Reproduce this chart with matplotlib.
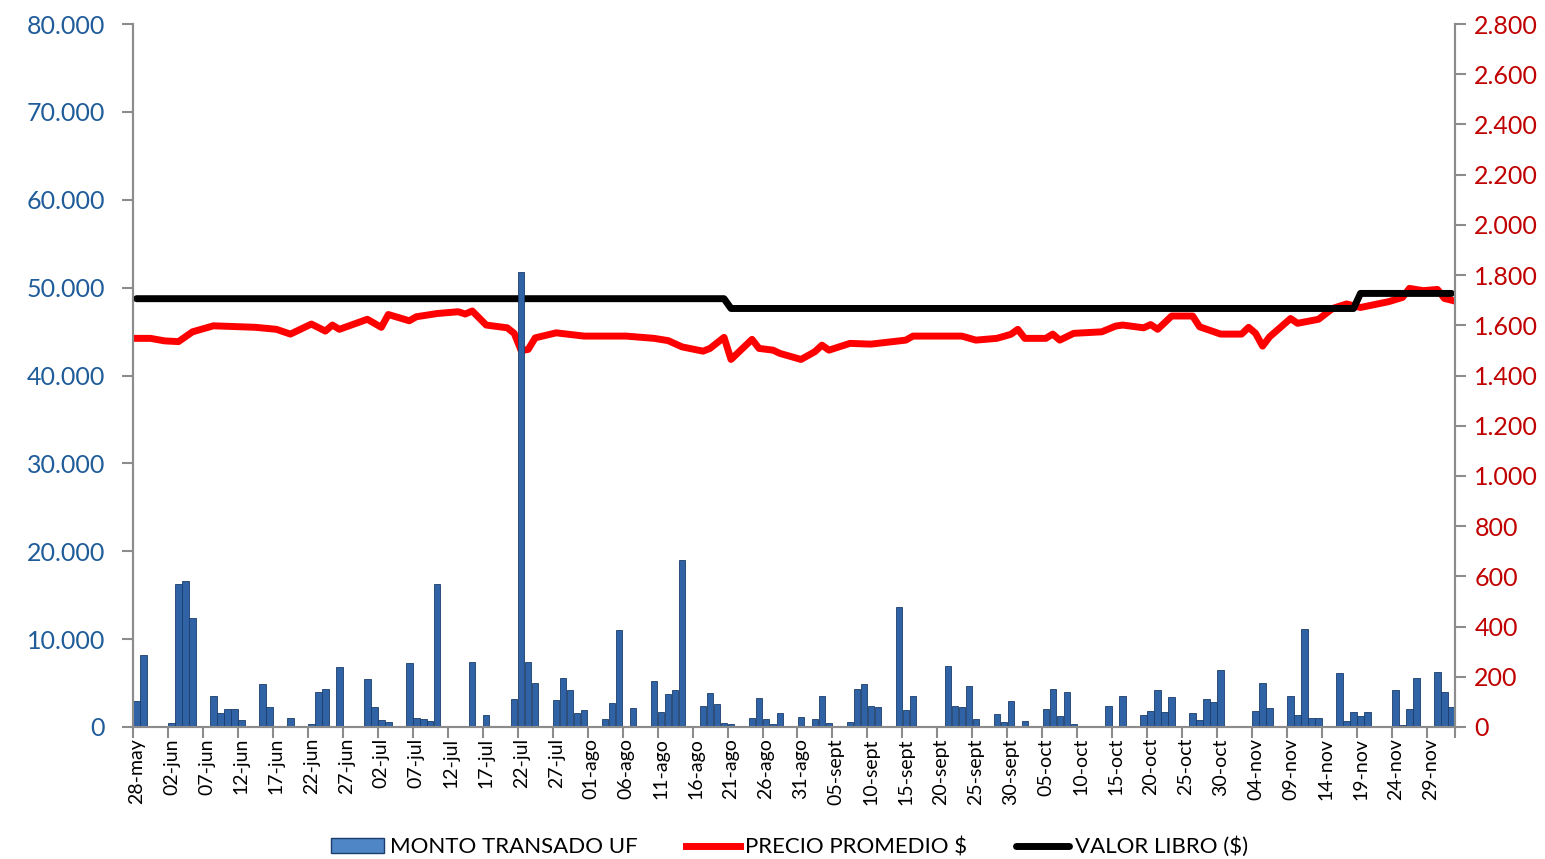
import matplotlib
matplotlib.use("Agg")
import matplotlib.pyplot as plt
from matplotlib.patches import Patch
from matplotlib.lines import Line2D
from matplotlib.ticker import FuncFormatter

plt.rcParams['font.family'] = ['Lato', 'DejaVu Sans']

# dias contados desde 28-may (0) hasta 02-dic (188)
n_dias = 189

# monto transado UF por dia
monto_dias = [0, 1, 5, 6, 7, 8, 11, 12, 13, 14, 15, 18, 19, 22, 25, 26, 27, 29,
              33, 34, 35, 36, 39, 40, 41, 42, 43, 47, 48, 50, 53, 54, 55, 56, 57,
              60, 61, 62, 63, 64, 67, 68, 69, 71, 74, 75, 76, 77, 78, 81, 82, 83,
              84, 85, 88, 89, 90, 91, 92, 95, 97, 98, 99, 102, 103, 104, 105, 106,
              109, 110, 111, 116, 117, 118, 119, 120, 123, 124, 125, 127, 130, 131,
              132, 133, 134, 139, 141, 144, 145, 146, 147, 148, 151, 152, 153, 154,
              155, 159, 160, 161, 162, 165, 166, 167, 168, 169, 172, 173, 174, 175,
              176, 179, 180, 181, 182, 183, 186, 187, 188]
monto_uf = [2960, 8220, 400, 16300, 16560, 12430, 3560, 1630, 2090, 2090, 830, 4930,
            2310, 1060, 380, 4020, 4360, 6780,
            5420, 2240, 830, 610, 7240, 990, 870, 720, 16260, 150, 7430, 1400, 150,
            3220, 51800, 7430, 5040,
            3110, 5530, 4250, 1630, 1970, 910, 2770, 10990, 2200, 5270, 1740, 3790,
            4250, 18950, 2430, 3900, 2650,
            490, 300, 1060, 3340, 950, 380, 1630, 1180, 950, 3560, 490, 600, 4360,
            4930, 2430, 2310,
            13680, 1970, 3560, 6970, 2430, 2310, 4700, 950, 1520, 600, 2990, 720,
            2090, 4360,
            1290, 4020, 380, 2430, 3560, 1400, 1860, 4250, 1740, 3450, 1630, 830,
            3220, 2880,
            6520, 50, 1860, 5040, 2200, 3560, 1400, 11180, 1060, 1060, 6180, 720,
            1740, 1290,
            1740, 50, 4250, 270, 2090, 5610, 6290, 4020, 2310]

# precio promedio $
precio_dias = [0, 2, 4, 6, 8, 11, 14, 17, 20, 22, 25, 27, 28, 29, 33, 35, 36, 39, 40,
               43, 46, 47, 48, 50, 53, 54, 55, 56, 57, 60, 64, 70, 74, 76, 78, 81, 82,
               84, 85, 88, 89, 91, 92, 95, 97, 98, 99, 102, 105, 110, 111, 118, 120,
               123, 125, 126, 127, 130, 131, 132, 134, 138, 140, 141, 144, 145, 146,
               148, 151, 152, 155, 158, 159, 160, 161, 162, 165, 166, 169, 171, 173,
               175, 179, 181, 182, 184, 186, 187, 188]
precio = [1548, 1548, 1538, 1535, 1574, 1598, 1595, 1592, 1584, 1565, 1605, 1577, 1601,
          1584, 1624, 1592, 1643, 1618, 1634,
          1647, 1654, 1645, 1657, 1601, 1590, 1568, 1499, 1504, 1550, 1570, 1557, 1557,
          1548, 1539, 1514, 1497, 1508,
          1552, 1464, 1544, 1508, 1501, 1488, 1464, 1495, 1521, 1501, 1528, 1525, 1541,
          1557, 1557, 1541,
          1548, 1564, 1584, 1548, 1548, 1565, 1541, 1568, 1574, 1597, 1601, 1590, 1603,
          1584,
          1637, 1637, 1594, 1565, 1565, 1592, 1568, 1517, 1554, 1627, 1608, 1624, 1667,
          1685,
          1671, 1694, 1711, 1747, 1738, 1743, 1707, 1700]

# valor libro ($)
libro_dias = [0, 84, 85, 174, 175, 188]
libro = [1706, 1706, 1667, 1667, 1727, 1727]

etiquetas = ['28-may', '02-jun', '07-jun', '12-jun', '17-jun', '22-jun', '27-jun',
             '02-jul', '07-jul', '12-jul', '17-jul', '22-jul', '27-jul',
             '01-ago', '06-ago', '11-ago', '16-ago', '21-ago', '26-ago', '31-ago',
             '05-sept', '10-sept', '15-sept', '20-sept', '25-sept', '30-sept',
             '05-oct', '10-oct', '15-oct', '20-oct', '25-oct', '30-oct',
             '04-nov', '09-nov', '14-nov', '19-nov', '24-nov', '29-nov']

azul_txt = '#1F5C99'
rojo_txt = '#C00000'
gris = '#8C8C8C'

fig = plt.figure(figsize=(15.45, 8.59), dpi=100)
ax = fig.add_axes([0.0861, 0.1537, 0.8556, 0.8183])
ax2 = ax.twinx()

ax.bar(monto_dias, monto_uf, width=0.92, color='#2F63A6', edgecolor='#1C3D6B',
       linewidth=0.6)
ax2.plot(precio_dias, precio, color='#FF0000', linewidth=5, solid_joinstyle='round')
ax2.plot(libro_dias, libro, color='black', linewidth=5, solid_capstyle='round')

# barras por encima de las lineas, como en el original
ax.set_zorder(ax2.get_zorder() + 1)
ax.patch.set_visible(False)

ax.set_xlim(-0.5, n_dias - 0.5)
ax.set_ylim(0, 80000)
ax2.set_ylim(0, 2800)
ax.set_yticks(range(0, 80001, 10000))
ax2.set_yticks(range(0, 2801, 200))

fmt = FuncFormatter(lambda v, p: f"{int(v):,}".replace(',', '.'))
ax.yaxis.set_major_formatter(fmt)
ax2.yaxis.set_major_formatter(fmt)

pos = [5 * k for k in range(len(etiquetas))]
ax.set_xticks([p - 0.5 for p in pos] + [n_dias - 0.5])
ax.set_xticklabels([])
ax.set_xticks(pos, minor=True)
ax.set_xticklabels(etiquetas, minor=True, rotation=90, fontsize=14)
ax.tick_params(axis='x', which='minor', length=0, pad=8)
ax.tick_params(axis='x', which='major', length=8, width=1.5, color=gris)

ax.tick_params(axis='y', labelsize=18, labelcolor=azul_txt, length=8, width=1.5,
               color=gris, pad=12)
ax2.tick_params(axis='y', labelsize=18, labelcolor=rojo_txt, length=8, width=1.5,
                color=gris, pad=6)

for a in (ax, ax2):
    a.spines['top'].set_visible(False)
    for s in ('left', 'right', 'bottom'):
        a.spines[s].set_color(gris)
        a.spines[s].set_linewidth(1.5)

handles = [Patch(facecolor='#4F86C6', edgecolor='#1C3D6B'),
           Line2D([0], [0], color='#FF0000', linewidth=5),
           Line2D([0], [0], color='black', linewidth=5, solid_capstyle='round')]
fig.legend(handles, ['MONTO TRANSADO UF', 'PRECIO PROMEDIO $', 'VALOR LIBRO ($)'],
           loc='center', bbox_to_anchor=(0.511, 0.014), ncol=3, frameon=False,
           fontsize=16, handlelength=2.4, handletextpad=0.25, columnspacing=2.2)

fig.savefig('out.png', dpi=100)
